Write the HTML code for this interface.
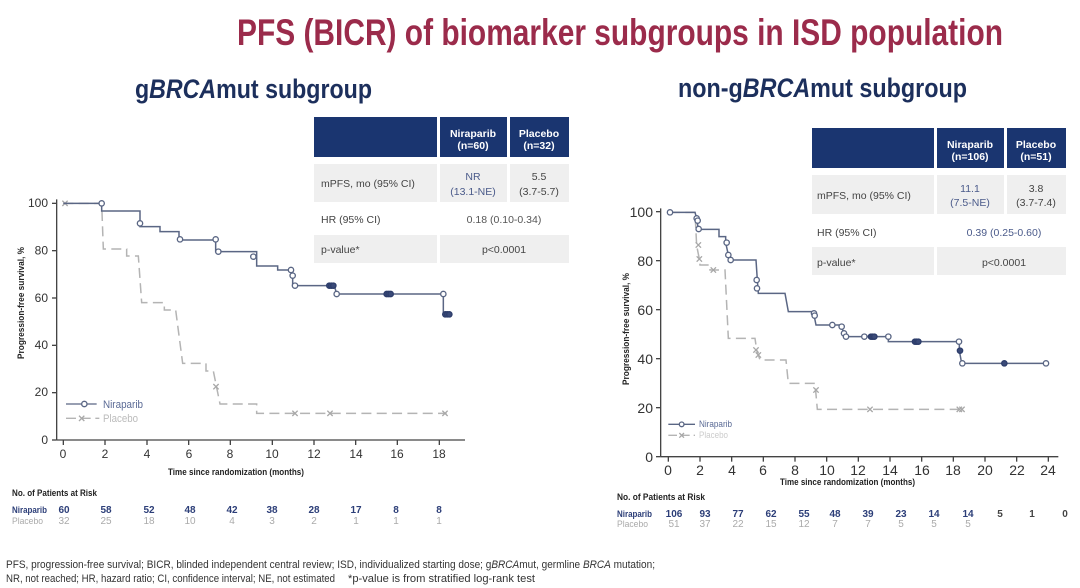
<!DOCTYPE html>
<html>
<head>
<meta charset="utf-8">
<style>
html,body{margin:0;padding:0;background:#fff;}
svg{display:block;}
text{font-family:"Liberation Sans",Arial,sans-serif;}
</style>
</head>
<body>
<svg width="1080" height="588" viewBox="0 0 1080 588" xmlns="http://www.w3.org/2000/svg">
<rect width="1080" height="588" fill="#ffffff"/>

<!-- Titles -->
<text x="237" y="45" font-size="37" font-weight="bold" fill="#9b2b4b" textLength="766" lengthAdjust="spacingAndGlyphs">PFS (BICR) of biomarker subgroups in ISD population</text>
<text x="135" y="98" font-size="27" font-weight="bold" fill="#1c2f5c" textLength="237" lengthAdjust="spacingAndGlyphs">g<tspan font-style="italic">BRCA</tspan>mut subgroup</text>
<text x="678" y="97" font-size="27" font-weight="bold" fill="#1c2f5c" textLength="289" lengthAdjust="spacingAndGlyphs">non-g<tspan font-style="italic">BRCA</tspan>mut subgroup</text>

<!-- LEFT CHART curves (zoom coordinates) -->
<g transform="translate(0,180) scale(0.333333)" fill="none">
  <!-- axes -->
  <g stroke="#444" stroke-width="4">
    <line x1="170" y1="58" x2="170" y2="780"/>
    <line x1="170" y1="780" x2="1395" y2="780"/>
    <line x1="156" y1="70" x2="170" y2="70"/>
    <line x1="156" y1="212" x2="170" y2="212"/>
    <line x1="156" y1="354" x2="170" y2="354"/>
    <line x1="156" y1="496" x2="170" y2="496"/>
    <line x1="156" y1="638" x2="170" y2="638"/>
    <line x1="156" y1="780" x2="170" y2="780"/>
    <line x1="190" y1="780" x2="190" y2="795"/>
    <line x1="315" y1="780" x2="315" y2="795"/>
    <line x1="441" y1="780" x2="441" y2="795"/>
    <line x1="566" y1="780" x2="566" y2="795"/>
    <line x1="691" y1="780" x2="691" y2="795"/>
    <line x1="817" y1="780" x2="817" y2="795"/>
    <line x1="942" y1="780" x2="942" y2="795"/>
    <line x1="1067" y1="780" x2="1067" y2="795"/>
    <line x1="1192" y1="780" x2="1192" y2="795"/>
    <line x1="1318" y1="780" x2="1318" y2="795"/>
  </g>
  <!-- placebo -->
  <path d="M190,70 H305 L310,207 H380 V228 H415 L425,368 H493 V390 H527 L548,550 H618 V573 H640 L660,672 H770 V700 H1340" stroke="#b4b4b4" stroke-width="4.5" stroke-dasharray="30,16"/>
  <g stroke="#a8a8a8" stroke-width="4">
    <path d="M187,62 l16,16 M187,78 l16,-16"/>
    <path d="M640,612 l16,16 M640,628 l16,-16"/>
    <path d="M877,692 l16,16 M877,708 l16,-16"/>
    <path d="M982,692 l16,16 M982,708 l16,-16"/>
    <path d="M1327,692 l16,16 M1327,708 l16,-16"/>
  </g>
  <!-- niraparib -->
  <path d="M190,70 H305 V93 H420 V140 H480 V155 H537 V180 H647 V215 H770 V258 H833 V270 H878 V317 H1003 L1010,342 H1330 V403 H1350" stroke="#5a6684" stroke-width="4.5"/>
  <g stroke="#5a6684" stroke-width="4" fill="#fff">
    <circle cx="305" cy="70" r="8"/>
    <circle cx="420" cy="130" r="8"/>
    <circle cx="540" cy="178" r="8"/>
    <circle cx="647" cy="178" r="8"/>
    <circle cx="655" cy="215" r="8"/>
    <circle cx="760" cy="230" r="8"/>
    <circle cx="873" cy="270" r="8"/>
    <circle cx="878" cy="287" r="8"/>
    <circle cx="885" cy="317" r="8"/>
    <circle cx="1010" cy="342" r="8"/>
    <circle cx="1330" cy="342" r="8"/>
  </g>
  <g stroke="#2d3d6b" stroke-width="4" fill="#3a4a78">
    <circle cx="988" cy="317" r="8"/><circle cx="994" cy="317" r="8"/><circle cx="1000" cy="317" r="8"/>
    <circle cx="1160" cy="342" r="8"/><circle cx="1166" cy="342" r="8"/><circle cx="1172" cy="342" r="8"/>
    <circle cx="1336" cy="403" r="8"/><circle cx="1342" cy="403" r="8"/><circle cx="1348" cy="403" r="8"/>
  </g>
  <!-- legend -->
  <line x1="198" y1="672" x2="290" y2="672" stroke="#5a6684" stroke-width="4"/>
  <circle cx="253" cy="672" r="8" stroke="#5a6684" stroke-width="4" fill="#fff"/>
  <line x1="198" y1="715" x2="298" y2="715" stroke="#b4b4b4" stroke-width="4" stroke-dasharray="30,14"/>
  <path d="M237,707 l16,16 M237,723 l16,-16" stroke="#a8a8a8" stroke-width="4"/>
</g>

<!-- LEFT CHART text -->
<g font-size="12" fill="#333" text-anchor="end">
  <text x="48" y="207">100</text>
  <text x="48" y="254.5">80</text>
  <text x="48" y="302">60</text>
  <text x="48" y="349">40</text>
  <text x="48" y="396">20</text>
  <text x="48" y="444">0</text>
</g>
<g font-size="12" fill="#333" text-anchor="middle">
  <text x="63" y="458">0</text>
  <text x="105" y="458">2</text>
  <text x="147" y="458">4</text>
  <text x="189" y="458">6</text>
  <text x="230" y="458">8</text>
  <text x="272" y="458">10</text>
  <text x="314" y="458">12</text>
  <text x="356" y="458">14</text>
  <text x="397" y="458">16</text>
  <text x="439" y="458">18</text>
</g>
<text x="168" y="475" font-size="9.5" font-weight="bold" fill="#222" textLength="136" lengthAdjust="spacingAndGlyphs">Time since randomization (months)</text>
<text transform="translate(24,303) rotate(-90)" x="-56" y="0" font-size="9.5" font-weight="bold" fill="#222" textLength="112" lengthAdjust="spacingAndGlyphs">Progression-free survival, %</text>
<text x="103" y="408" font-size="11" fill="#5a6a95" textLength="40" lengthAdjust="spacingAndGlyphs">Niraparib</text>
<text x="103" y="422" font-size="11" fill="#bbbbbb" textLength="35" lengthAdjust="spacingAndGlyphs">Placebo</text>

<!-- LEFT TABLE -->
<rect x="314" y="117" width="123" height="40" fill="#1a3570"/>
<rect x="440" y="117" width="67" height="40" fill="#1a3570"/>
<rect x="510" y="117" width="59" height="40" fill="#1a3570"/>
<rect x="314" y="164" width="123" height="38" fill="#efefef"/>
<rect x="440" y="164" width="67" height="38" fill="#efefef"/>
<rect x="510" y="164" width="59" height="38" fill="#efefef"/>
<rect x="314" y="235" width="123" height="28" fill="#efefef"/>
<rect x="440" y="235" width="129" height="28" fill="#efefef"/>
<g font-size="10.5" font-weight="bold" fill="#ffffff" text-anchor="middle">
  <text x="473" y="137">Niraparib</text>
  <text x="473" y="149">(n=60)</text>
  <text x="539" y="137">Placebo</text>
  <text x="539" y="149">(n=32)</text>
</g>
<g font-size="10.5" fill="#444">
  <text x="321" y="187">mPFS, mo (95% CI)</text>
  <text x="321" y="223">HR (95% CI)</text>
  <text x="321" y="253">p-value*</text>
</g>
<g font-size="10.5" text-anchor="middle">
  <text x="473" y="180" fill="#4a5a8a">NR</text>
  <text x="473" y="195" fill="#4a5a8a">(13.1-NE)</text>
  <text x="539" y="180" fill="#444">5.5</text>
  <text x="539" y="195" fill="#444">(3.7-5.7)</text>
  <text x="504" y="223" fill="#555">0.18 (0.10-0.34)</text>
  <text x="504" y="253" fill="#444">p&lt;0.0001</text>
</g>

<!-- RIGHT CHART curves (zoom coordinates) -->
<g transform="translate(540,180) scale(0.333333)" fill="none">
  <g stroke="#444" stroke-width="4">
    <line x1="362" y1="85" x2="362" y2="830"/>
    <line x1="362" y1="830" x2="1555" y2="830"/>
    <line x1="348" y1="95" x2="362" y2="95"/>
    <line x1="348" y1="242" x2="362" y2="242"/>
    <line x1="348" y1="389" x2="362" y2="389"/>
    <line x1="348" y1="536" x2="362" y2="536"/>
    <line x1="348" y1="683" x2="362" y2="683"/>
    <line x1="348" y1="830" x2="362" y2="830"/>
    <line x1="385" y1="830" x2="385" y2="845"/>
    <line x1="480" y1="830" x2="480" y2="845"/>
    <line x1="575" y1="830" x2="575" y2="845"/>
    <line x1="670" y1="830" x2="670" y2="845"/>
    <line x1="765" y1="830" x2="765" y2="845"/>
    <line x1="860" y1="830" x2="860" y2="845"/>
    <line x1="955" y1="830" x2="955" y2="845"/>
    <line x1="1050" y1="830" x2="1050" y2="845"/>
    <line x1="1145" y1="830" x2="1145" y2="845"/>
    <line x1="1240" y1="830" x2="1240" y2="845"/>
    <line x1="1335" y1="830" x2="1335" y2="845"/>
    <line x1="1430" y1="830" x2="1430" y2="845"/>
    <line x1="1525" y1="830" x2="1525" y2="845"/>
  </g>
  <!-- placebo -->
  <path d="M390,97 H465 L470,197 L478,237 L480,255 H510 V270 H555 L565,475 H645 L650,510 L660,540 H738 L745,610 H825 L832,688 H1270" stroke="#b4b4b4" stroke-width="4.5" stroke-dasharray="30,16"/>
  <g stroke="#a8a8a8" stroke-width="4">
    <path d="M467,187 l16,16 M467,203 l16,-16"/>
    <path d="M470,229 l16,16 M470,245 l16,-16"/>
    <path d="M512,262 l16,16 M512,278 l16,-16"/>
    <path d="M640,502 l16,16 M640,518 l16,-16"/>
    <path d="M647,517 l16,16 M647,533 l16,-16"/>
    <path d="M820,622 l16,16 M820,638 l16,-16"/>
    <path d="M982,680 l16,16 M982,696 l16,-16"/>
    <path d="M1250,680 l16,16 M1250,696 l16,-16"/>
    <path d="M1258,680 l16,16 M1258,696 l16,-16"/>
  </g>
  <!-- niraparib -->
  <path d="M390,97 H465 L470,115 L475,148 H537 V170 H557 V188 L565,225 L572,240 H648 L652,300 L655,340 H735 L745,395 H820 L828,435 H905 V442 L912,460 L918,470 H1045 V485 H1258 V512 L1265,550 H1520" stroke="#5a6684" stroke-width="4.5"/>
  <g stroke="#5a6684" stroke-width="4" fill="#fff">
    <circle cx="390" cy="97" r="8"/>
    <circle cx="470" cy="115" r="8"/>
    <circle cx="473" cy="122" r="8"/>
    <circle cx="476" cy="147" r="8"/>
    <circle cx="560" cy="188" r="8"/>
    <circle cx="565" cy="225" r="8"/>
    <circle cx="572" cy="240" r="8"/>
    <circle cx="650" cy="300" r="8"/>
    <circle cx="651" cy="325" r="8"/>
    <circle cx="822" cy="400" r="8"/>
    <circle cx="824" cy="407" r="8"/>
    <circle cx="877" cy="435" r="8"/>
    <circle cx="905" cy="440" r="8"/>
    <circle cx="912" cy="460" r="8"/>
    <circle cx="918" cy="470" r="8"/>
    <circle cx="973" cy="470" r="8"/>
    <circle cx="1045" cy="470" r="8"/>
    <circle cx="1257" cy="485" r="8"/>
    <circle cx="1267" cy="550" r="8"/>
    <circle cx="1518" cy="550" r="8"/>
  </g>
  <g stroke="#2d3d6b" stroke-width="4" fill="#3a4a78">
    <circle cx="993" cy="470" r="8"/><circle cx="998" cy="470" r="8"/><circle cx="1003" cy="470" r="8"/>
    <circle cx="1125" cy="485" r="8"/><circle cx="1130" cy="485" r="8"/><circle cx="1135" cy="485" r="8"/>
    <circle cx="1260" cy="512" r="8"/>
    <circle cx="1393" cy="550" r="8"/>
  </g>
  <!-- legend -->
  <line x1="385" y1="733" x2="465" y2="733" stroke="#5a6684" stroke-width="4"/>
  <circle cx="425" cy="733" r="7" stroke="#5a6684" stroke-width="4" fill="#fff"/>
  <line x1="385" y1="766" x2="465" y2="766" stroke="#b4b4b4" stroke-width="4" stroke-dasharray="26,12"/>
  <path d="M418,759 l14,14 M418,773 l14,-14" stroke="#a8a8a8" stroke-width="4"/>
</g>

<!-- RIGHT CHART text -->
<g font-size="14" fill="#333" text-anchor="end">
  <text x="653" y="217">100</text>
  <text x="653" y="266">80</text>
  <text x="653" y="315">60</text>
  <text x="653" y="364">40</text>
  <text x="653" y="413">20</text>
  <text x="653" y="462">0</text>
</g>
<g font-size="14" fill="#333" text-anchor="middle">
  <text x="668" y="475">0</text>
  <text x="700" y="475">2</text>
  <text x="732" y="475">4</text>
  <text x="763" y="475">6</text>
  <text x="795" y="475">8</text>
  <text x="827" y="475">10</text>
  <text x="858" y="475">12</text>
  <text x="890" y="475">14</text>
  <text x="922" y="475">16</text>
  <text x="953" y="475">18</text>
  <text x="985" y="475">20</text>
  <text x="1017" y="475">22</text>
  <text x="1048" y="475">24</text>
</g>
<text x="780" y="485" font-size="9.5" font-weight="bold" fill="#222" textLength="135" lengthAdjust="spacingAndGlyphs">Time since randomization (months)</text>
<text transform="translate(629,329) rotate(-90)" x="-56" y="0" font-size="9.5" font-weight="bold" fill="#222" textLength="112" lengthAdjust="spacingAndGlyphs">Progression-free survival, %</text>
<text x="699" y="427" font-size="9" fill="#5a6a95" textLength="33" lengthAdjust="spacingAndGlyphs">Niraparib</text>
<text x="699" y="438" font-size="9" fill="#cccccc" textLength="29" lengthAdjust="spacingAndGlyphs">Placebo</text>

<!-- RIGHT TABLE -->
<rect x="812" y="128" width="122" height="40" fill="#1a3570"/>
<rect x="937" y="128" width="67" height="40" fill="#1a3570"/>
<rect x="1007" y="128" width="59" height="40" fill="#1a3570"/>
<rect x="812" y="175" width="122" height="39" fill="#efefef"/>
<rect x="937" y="175" width="67" height="39" fill="#efefef"/>
<rect x="1007" y="175" width="59" height="39" fill="#efefef"/>
<rect x="812" y="247" width="122" height="28" fill="#efefef"/>
<rect x="937" y="247" width="129" height="28" fill="#efefef"/>
<g font-size="10.5" font-weight="bold" fill="#ffffff" text-anchor="middle">
  <text x="970" y="148">Niraparib</text>
  <text x="970" y="160">(n=106)</text>
  <text x="1036" y="148">Placebo</text>
  <text x="1036" y="160">(n=51)</text>
</g>
<g font-size="10.5" fill="#444">
  <text x="817" y="199">mPFS, mo (95% CI)</text>
  <text x="817" y="236">HR (95% CI)</text>
  <text x="817" y="266">p-value*</text>
</g>
<g font-size="10.5" text-anchor="middle">
  <text x="970" y="192" fill="#4a5a8a">11.1</text>
  <text x="970" y="206" fill="#4a5a8a">(7.5-NE)</text>
  <text x="1036" y="192" fill="#444">3.8</text>
  <text x="1036" y="206" fill="#444">(3.7-7.4)</text>
  <text x="1004" y="236" fill="#4a5a8a">0.39 (0.25-0.60)</text>
  <text x="1004" y="266" fill="#444">p&lt;0.0001</text>
</g>

<!-- LEFT RISK TABLE -->
<text x="12" y="496" font-size="9.5" font-weight="bold" fill="#222" textLength="85" lengthAdjust="spacingAndGlyphs">No. of Patients at Risk</text>
<text x="12" y="513" font-size="9.5" font-weight="bold" fill="#2c3e78" textLength="35" lengthAdjust="spacingAndGlyphs">Niraparib</text>
<text x="12" y="524" font-size="9.5" fill="#aaaaaa" textLength="31" lengthAdjust="spacingAndGlyphs">Placebo</text>
<g font-size="10" font-weight="bold" fill="#2c3e78" text-anchor="middle">
  <text x="64" y="513">60</text><text x="106" y="513">58</text><text x="149" y="513">52</text>
  <text x="190" y="513">48</text><text x="232" y="513">42</text><text x="272" y="513">38</text>
  <text x="314" y="513">28</text><text x="356" y="513">17</text><text x="396" y="513">8</text>
  <text x="439" y="513">8</text>
</g>
<g font-size="10" fill="#aaaaaa" text-anchor="middle">
  <text x="64" y="524">32</text><text x="106" y="524">25</text><text x="149" y="524">18</text>
  <text x="190" y="524">10</text><text x="232" y="524">4</text><text x="272" y="524">3</text>
  <text x="314" y="524">2</text><text x="356" y="524">1</text><text x="396" y="524">1</text>
  <text x="439" y="524">1</text>
</g>

<!-- RIGHT RISK TABLE -->
<text x="617" y="500" font-size="9.5" font-weight="bold" fill="#222" textLength="88" lengthAdjust="spacingAndGlyphs">No. of Patients at Risk</text>
<text x="617" y="517" font-size="9.5" font-weight="bold" fill="#2c3e78" textLength="35" lengthAdjust="spacingAndGlyphs">Niraparib</text>
<text x="617" y="527" font-size="9.5" fill="#aaaaaa" textLength="31" lengthAdjust="spacingAndGlyphs">Placebo</text>
<g font-size="10" font-weight="bold" fill="#2c3e78" text-anchor="middle">
  <text x="674" y="517">106</text><text x="705" y="517">93</text><text x="738" y="517">77</text>
  <text x="771" y="517">62</text><text x="804" y="517">55</text><text x="835" y="517">48</text>
  <text x="868" y="517">39</text><text x="901" y="517">23</text><text x="934" y="517">14</text>
  <text x="968" y="517">14</text>
</g>
<g font-size="10" font-weight="bold" fill="#444" text-anchor="middle">
  <text x="1000" y="517">5</text><text x="1032" y="517">1</text><text x="1065" y="517">0</text>
</g>
<g font-size="10" fill="#aaaaaa" text-anchor="middle">
  <text x="674" y="527">51</text><text x="705" y="527">37</text><text x="738" y="527">22</text>
  <text x="771" y="527">15</text><text x="804" y="527">12</text><text x="835" y="527">7</text>
  <text x="868" y="527">7</text><text x="901" y="527">5</text><text x="934" y="527">5</text>
  <text x="968" y="527">5</text>
</g>

<!-- FOOTER -->
<text x="6" y="568" font-size="11" fill="#333" textLength="649" lengthAdjust="spacingAndGlyphs">PFS, progression-free survival; BICR, blinded independent central review; ISD, individualized starting dose; g<tspan font-style="italic">BRCA</tspan>mut, germline <tspan font-style="italic">BRCA</tspan> mutation;</text>
<text x="6" y="582" font-size="11" fill="#333" textLength="329" lengthAdjust="spacingAndGlyphs">NR, not reached; HR, hazard ratio; CI, confidence interval; NE, not estimated</text>
<text x="348" y="582" font-size="11" fill="#333" textLength="187" lengthAdjust="spacingAndGlyphs">*p-value is from stratified log-rank test</text>
</svg>
</body>
</html>
